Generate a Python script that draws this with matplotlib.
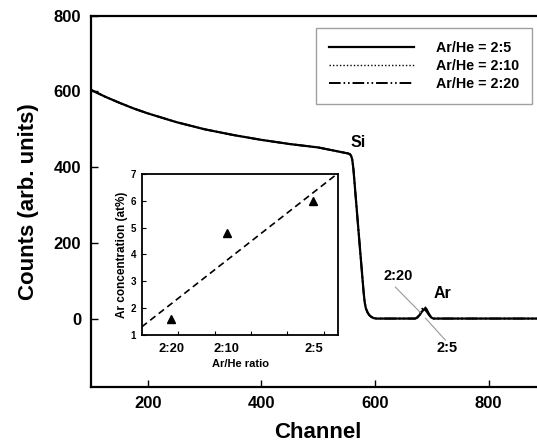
import matplotlib
matplotlib.use('Agg')
import matplotlib.pyplot as plt

plt.rcParams['font.family'] = ['Liberation Sans', 'DejaVu Sans']
plt.rcParams['font.weight'] = 'bold'

# ── DATA ─────────────────────────────────────────────────────
channel = [100, 125, 150, 175, 200, 250, 300, 350, 400, 450, 500, 530, 553,
           556, 558, 560, 562, 564, 566, 568, 570, 572, 574, 576, 578, 580,
           582, 584, 587, 590, 594, 598, 603, 650, 671, 675, 679, 683, 687,
           691, 695, 699, 703, 750, 900]

counts_2_5 = [604, 586, 570, 555, 542, 519, 500, 485, 472, 461, 452, 443, 436,
              434, 430, 420, 396, 360, 323, 287, 250, 214, 178, 142, 106, 70,
              42, 27, 16, 9, 4, 1, 0, 0, 0, 3, 10, 19, 25, 19, 10, 3, 0, 0, 0]
counts_2_10 = [604, 586, 570, 555, 542, 519, 500, 485, 472, 461, 452, 443, 436,
               434, 430, 420, 396, 360, 323, 287, 250, 214, 178, 142, 106, 70,
               42, 27, 16, 9, 4, 1, 0, 0, 0, 3, 11, 22, 28, 22, 11, 3, 0, 0, 0]
counts_2_20 = [604, 586, 570, 555, 542, 519, 500, 485, 472, 461, 452, 443, 436,
               434, 430, 420, 396, 360, 323, 287, 250, 214, 178, 142, 106, 70,
               42, 27, 16, 9, 4, 1, 0, 0, 0, 4, 13, 25, 32, 25, 13, 4, 0, 0, 0]

series_labels = ['Ar/He = 2:5', 'Ar/He = 2:10', 'Ar/He = 2:20']

# inset: Ar fraction Ar/(Ar+He) for each ratio, measured Ar concentration
inset_ratio_labels = ['2:20', '2:10', '2:5']
inset_frac = [2 / 22, 2 / 12, 2 / 7]
inset_conc = [1.6, 4.8, 6.0]
fit_x = [0.05, 0.318]
fit_y = [1.3, 7.0]

# ── FIGURE ───────────────────────────────────────────────────
fig = plt.figure(figsize=(5.37, 4.45), dpi=100)
ax = fig.add_axes([0.1695, 0.131, 0.846, 0.8337])

ax.plot(channel, counts_2_5, color='black', lw=1.6, ls='-', label=series_labels[0])
ax.plot(channel, counts_2_10, color='black', lw=1.0, ls=(0, (1, 1.5)), label=series_labels[1])
ax.plot(channel, counts_2_20, color='black', lw=1.4,
        ls=(0, (6, 1.5, 0.8, 1.5, 0.8, 1.5)), label=series_labels[2])

ax.set_xlim(100, 900)
ax.set_ylim(-180, 800)
ax.set_xticks([200, 400, 600, 800])
ax.set_yticks([0, 200, 400, 600, 800])
ax.tick_params(direction='in', length=5, width=1, labelsize=12, pad=7)
for sp in ax.spines.values():
    sp.set_linewidth(1.6)
ax.set_xlabel('Channel', fontsize=16, fontweight='bold', labelpad=7.5)
ax.set_ylabel('Counts (arb. units)', fontsize=16, fontweight='bold', labelpad=11)

leg = ax.legend(loc='upper left', bbox_to_anchor=(0.588, 0.937),
                bbox_transform=fig.transFigure, fontsize=10.3, handlelength=6,
                handletextpad=1.5, labelspacing=0.28, borderpad=0.9,
                fancybox=False, frameon=True, borderaxespad=0)
leg.get_frame().set_edgecolor('#888888')
leg.get_frame().set_linewidth(1.0)

# peak labels
ax.text(570, 464, 'Si', fontsize=11.5, fontweight='bold', ha='center', va='center')
ax.text(718, 67, 'Ar', fontsize=11.5, fontweight='bold', ha='center', va='center')
ax.text(641, 112, '2:20', fontsize=10.5, fontweight='bold', ha='center', va='center')
ax.text(727, -79, '2:5', fontsize=10.5, fontweight='bold', ha='center', va='center')
ax.plot([636, 680], [83, 16], color='#999999', lw=0.8)
ax.plot([689, 724], [1, -57], color='#999999', lw=0.8)

# ── INSET ────────────────────────────────────────────────────
ins = fig.add_axes([0.2638, 0.2472, 0.3665, 0.3618])
ins.plot(fit_x, fit_y, color='black', lw=1.2, ls=(0, (4, 2.5)))
ins.plot(inset_frac, inset_conc, ls='none', marker='^', color='black', ms=5.5)
ins.set_xlim(0.05, 0.32)
ins.set_ylim(1, 7)
ins.set_xticks([0.10, 0.15, 0.20, 0.25, 0.30])
ins.set_xticklabels([])
ins.set_xticks(inset_frac, minor=True)
ins.set_xticklabels(inset_ratio_labels, minor=True)
ins.set_yticks([1, 2, 3, 4, 5, 6, 7])
ins.tick_params(axis='x', which='major', direction='in', length=3, width=0.8)
ins.tick_params(axis='x', which='minor', length=0, labelsize=9.3, pad=6)
ins.tick_params(axis='y', direction='in', length=3, width=0.8, labelsize=7, pad=4)
for sp in ins.spines.values():
    sp.set_linewidth(1.3)
ins.set_xlabel('Ar/He ratio', fontsize=8, fontweight='bold', labelpad=3)
ins.set_ylabel('Ar concentration (at%)', fontsize=8.5, fontweight='bold', labelpad=2)

fig.savefig('out.png', dpi=100)
